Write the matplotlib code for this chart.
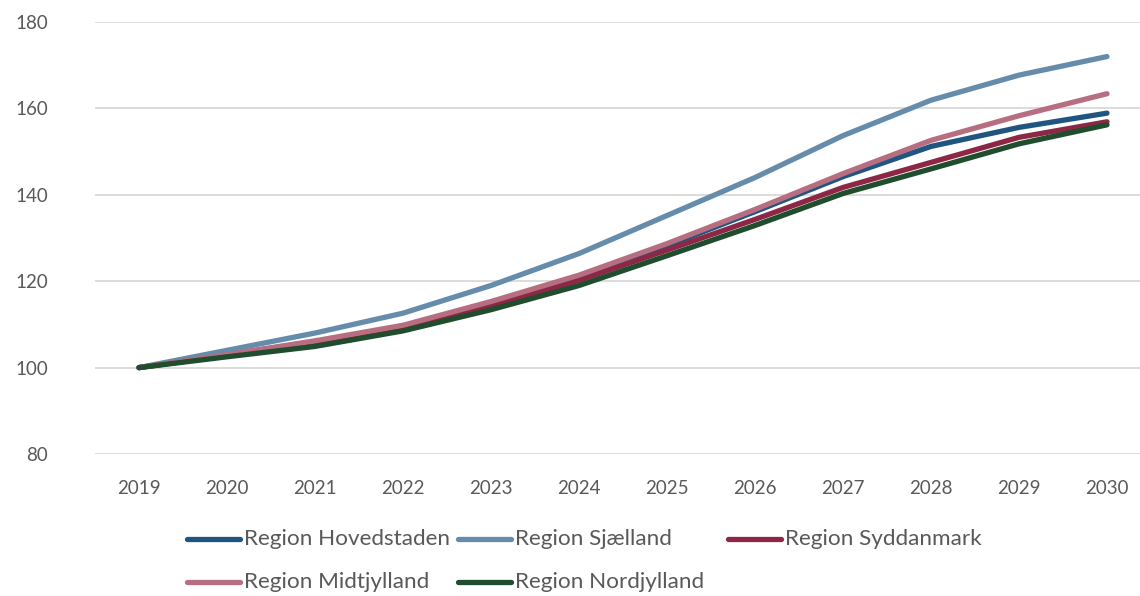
import matplotlib
matplotlib.use("Agg")
import matplotlib.pyplot as plt
from matplotlib.lines import Line2D

years = ["2019", "2020", "2021", "2022", "2023", "2024", "2025", "2026", "2027", "2028", "2029", "2030"]
hovedstaden = [100, 103.0, 106.0, 109.4, 114.6, 120.8, 128.2, 136.1, 144.2, 151.2, 155.6, 158.9]
sjaelland   = [100, 104.0, 108.0, 112.6, 119.0, 126.4, 135.2, 144.0, 153.7, 161.9, 167.7, 172.0]
syddanmark  = [100, 102.8, 105.4, 109.0, 114.2, 120.2, 127.2, 134.3, 141.7, 147.5, 153.3, 156.9]
midtjylland = [100, 103.0, 106.2, 109.8, 115.3, 121.4, 128.7, 136.6, 144.9, 152.6, 158.3, 163.4]
nordjylland = [100, 102.5, 104.9, 108.5, 113.4, 119.0, 125.9, 132.9, 140.3, 146.0, 151.8, 156.2]

series = [
    ("Region Hovedstaden", hovedstaden, "#1f5581"),
    ("Region Sjælland", sjaelland, "#668cab"),
    ("Region Syddanmark", syddanmark, "#8c2845"),
    ("Region Midtjylland", midtjylland, "#b76e80"),
    ("Region Nordjylland", nordjylland, "#1f4d2d"),
]

W, H = 1140, 596
plt.rcParams['font.family'] = ['Lato', 'DejaVu Sans']
fig = plt.figure(figsize=(W / 100, H / 100), dpi=100)
ax = fig.add_axes([95 / W, (H - 454) / H, 1056 / W, 432 / H])

x = list(range(len(years)))
for name, vals, col in series:
    ax.plot(x, vals, color=col, lw=3.8, solid_capstyle='round', solid_joinstyle='round', label=name)

ax.set_xlim(-0.5, len(years) - 0.5)
ax.set_ylim(80, 180)
ax.set_yticks([80, 100, 120, 140, 160, 180])
ax.set_xticks(x)
ax.set_xticklabels(years)
ax.grid(axis='y', color='#d9d9d9', lw=1.3)
ax.set_axisbelow(True)
for s in ax.spines.values():
    s.set_visible(False)
ax.tick_params(axis='both', length=0, labelsize=13.5, colors='#595959')
ax.tick_params(axis='y', pad=34)
ax.tick_params(axis='x', pad=19)

# legend (equal-width columns, as in reference)
legend_pos = [(187, 539), (458, 539), (728, 539), (187, 582), (458, 582)]
for (name, vals, col), (lx, ly) in zip(series, legend_pos):
    yf = (H - ly) / H
    fig.add_artist(Line2D([lx / W, (lx + 53) / W], [yf, yf], color=col, lw=3.8,
                          solid_capstyle='round', transform=fig.transFigure))
    fig.text((lx + 57) / W, yf, name, fontsize=16.2, color='#595959', va='center', ha='left')

fig.savefig("out.png", dpi=100)
